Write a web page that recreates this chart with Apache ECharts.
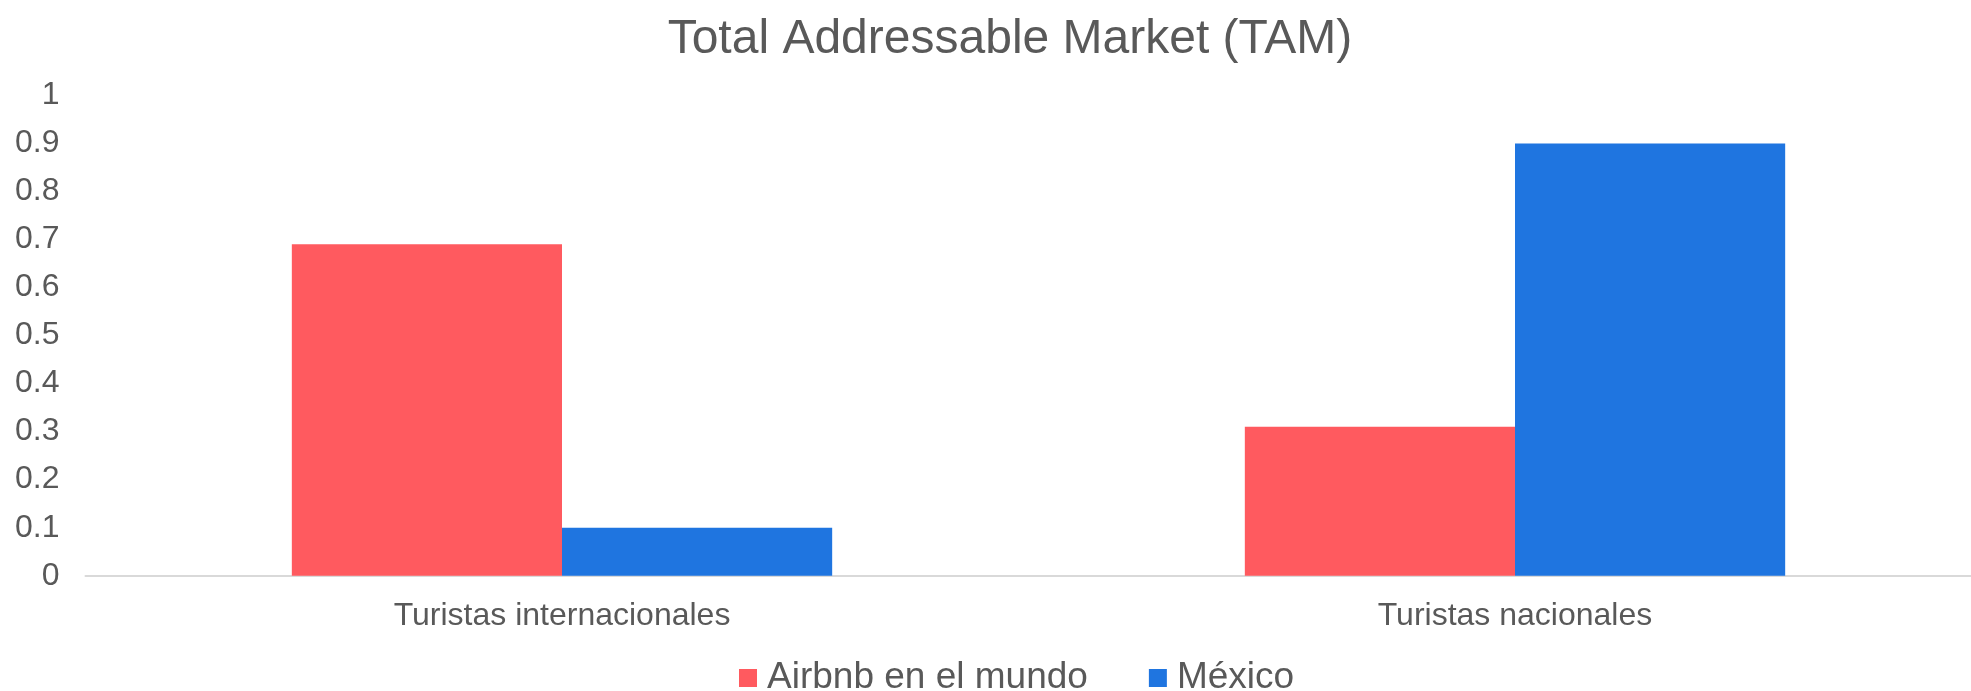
<!DOCTYPE html>
<html>
<head>
    <meta charset="utf-8">
    <title>Total Addressable Market (TAM)</title>
    <script src="https://cdn.jsdelivr.net/npm/echarts@6/dist/echarts.min.js"></script>
    <style>
        html, body { margin: 0; padding: 0; background: #fff; }
        #main { width: 1971px; height: 691px; }
    </style>
</head>
<body>
<div id="main"></div>
<script>
    // datos
    var categorias = ['Turistas internacionales', 'Turistas nacionales'];
    var airbnbMundo = [0.69, 0.31];
    var mexico = [0.1, 0.9];
    var nombresSeries = ['Airbnb en el mundo', 'México'];
    var colores = ['#FF5A5F', '#1F75E0'];

    var fuente = '"Liberation Sans", Arial, sans-serif';
    var gris = '#595959';

    var myChart = echarts.init(document.getElementById('main'));
    myChart.setOption({
        animation: false,
        title: {
            text: 'Total Addressable Market (TAM)',
            left: 1005,
            textAlign: 'center',
            top: 11,
            textStyle: {
                fontFamily: fuente,
                fontSize: 48,
                fontWeight: 'normal',
                color: gris
            }
        },
        legend: {
            data: nombresSeries,
            left: 734,
            top: 653,
            icon: 'rect',
            itemWidth: 18,
            itemHeight: 18,
            itemGap: 61,
            textStyle: {
                fontFamily: fuente,
                fontSize: 37,
                color: gris,
                lineHeight: 40,
                padding: [0, 0, 0, 5]
            }
        },
        grid: {
            left: 85.5,
            width: 1906,
            top: 95.5,
            bottom: 115.3,
            outerBoundsMode: 'none'
        },
        xAxis: {
            type: 'category',
            data: categorias,
            axisLine: {lineStyle: {color: '#D9D9D9', width: 2}},
            axisTick: {show: false},
            axisLabel: {
                fontFamily: fuente,
                fontSize: 32,
                color: gris,
                margin: 24
            }
        },
        yAxis: {
            type: 'value',
            min: 0,
            max: 1,
            interval: 0.1,
            axisLine: {show: false},
            axisTick: {show: false},
            splitLine: {show: false},
            axisLabel: {
                fontFamily: fuente,
                fontSize: 32,
                color: gris,
                margin: 26
            }
        },
        series: [
            {
                name: nombresSeries[0],
                type: 'bar',
                data: airbnbMundo,
                barGap: '0%',
                barCategoryGap: '43.3%',
                itemStyle: {color: colores[0]}
            },
            {
                name: nombresSeries[1],
                type: 'bar',
                data: mexico,
                itemStyle: {color: colores[1]}
            }
        ]
    });
</script>
</body>
</html>
